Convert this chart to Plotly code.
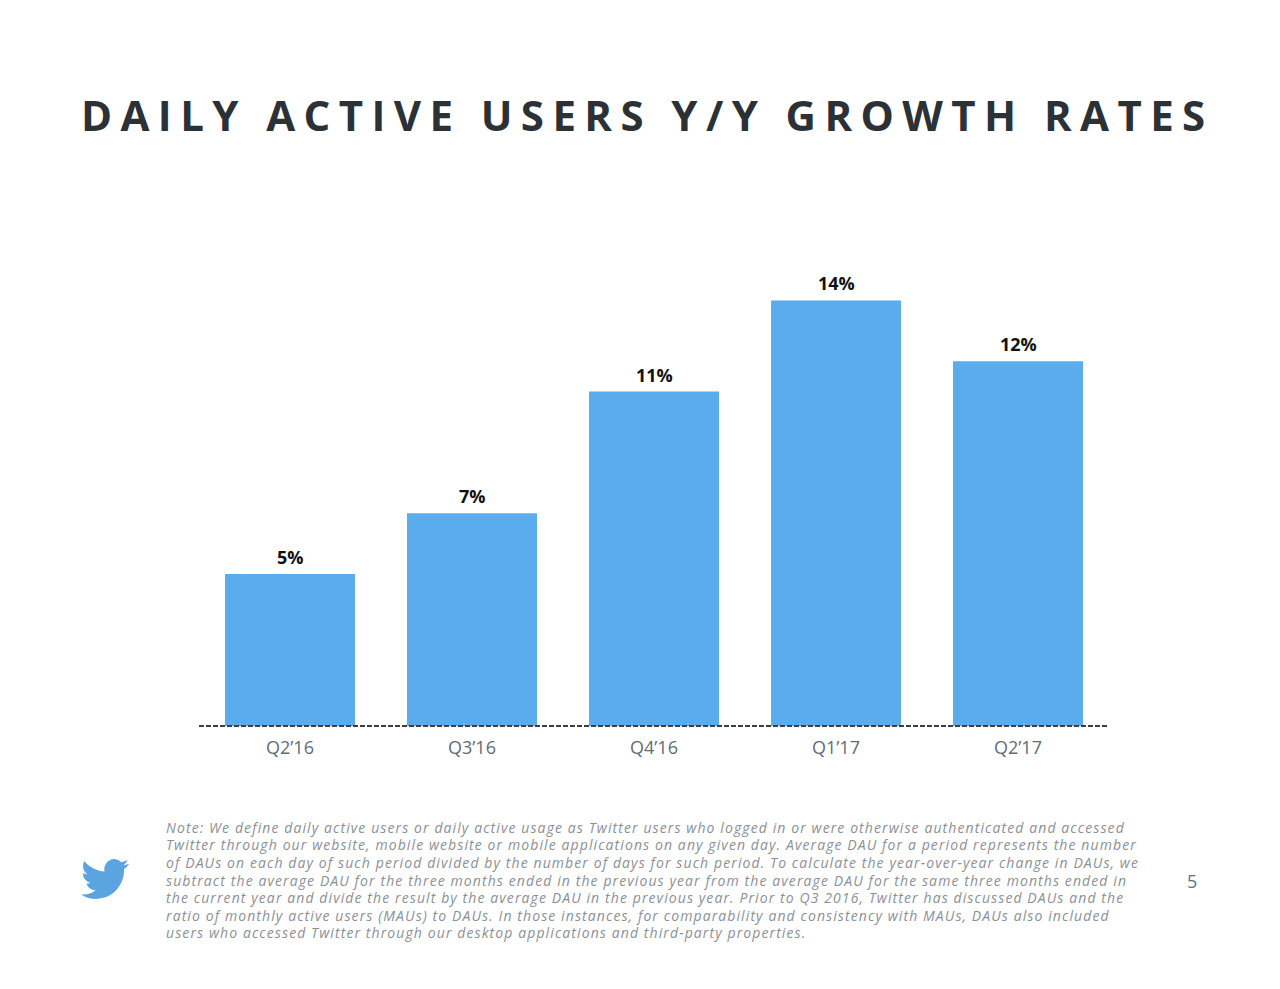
import base64
import plotly.graph_objects as go

quarters = ["Q2’16", "Q3’16", "Q4’16", "Q1’17", "Q2’17"]
growth = [5, 7, 11, 14, 12]
growth_labels = ["5%", "7%", "11%", "14%", "12%"]

title = "DAILY ACTIVE USERS Y/Y GROWTH RATES"
page_number = "5"
note_lines = [
    "Note: We define daily active users or daily active usage as Twitter users who logged in or were otherwise authenticated and accessed",
    "Twitter through our website, mobile website or mobile applications on any given day. Average DAU for a period represents the number",
    "of DAUs on each day of such period divided by the number of days for such period. To calculate the year-over-year change in DAUs, we",
    "subtract the average DAU for the three months ended in the previous year from the average DAU for the same three months ended in",
    "the current year and divide the result by the average DAU in the previous year. Prior to Q3 2016, Twitter has discussed DAUs and the",
    "ratio of monthly active users (MAUs) to DAUs. In those instances, for comparability and consistency with MAUs, DAUs also included",
    "users who accessed Twitter through our desktop applications and third-party properties.",
]
note_y = [827, 845, 862, 880, 897, 915, 932]

FONT = "Open Sans"
BLUE = "#5aacec"

# plot area in page pixels
LEFT, RIGHT, TOP, BOTTOM = 199, 1109, 270, 726


def paper_x(px):
    return (px - LEFT) / (RIGHT - LEFT)


def paper_y(py):
    return (BOTTOM - py) / (BOTTOM - TOP)


BIRD = (
    '<svg xmlns="http://www.w3.org/2000/svg" viewBox="0 0 24 19.6">'
    '<path transform="translate(0,-2.2)" fill="#5aa5e0" d="M23.953 4.57a10 10 0 01-2.825.775 4.958 4.958 0 002.163-2.723'
    "c-.951.555-2.005.959-3.127 1.184a4.92 4.92 0 00-8.384 4.482C7.69 8.095 4.067 6.13 1.64 3.162"
    "a4.822 4.822 0 00-.666 2.475c0 1.71.87 3.213 2.188 4.096a4.904 4.904 0 01-2.228-.616v.06"
    "a4.923 4.923 0 003.946 4.827 4.996 4.996 0 01-2.212.085 4.936 4.936 0 004.604 3.417"
    "a9.867 9.867 0 01-6.102 2.105c-.39 0-.779-.023-1.17-.067a13.995 13.995 0 007.557 2.209"
    'c9.053 0 13.998-7.496 13.998-13.985 0-.21 0-.42-.015-.63A9.935 9.935 0 0024 4.59z"/></svg>'
)

fig = go.Figure(go.Bar(x=quarters, y=growth, marker=dict(color=BLUE, line_width=0), hoverinfo="skip"))

# value labels over the bars
for q, v, lab in zip(quarters, growth, growth_labels):
    fig.add_annotation(x=q, y=v, text=lab, showarrow=False, yanchor="bottom", yshift=3,
                       font=dict(family=FONT, size=18, color="#111111", weight=700))

for line, y in zip(note_lines, note_y):
    fig.add_annotation(xref="paper", yref="paper", x=paper_x(164), y=paper_y(y), text=line,
                       showarrow=False, xanchor="left", yanchor="middle", align="left",
                       font=dict(family=FONT, size=14, color="#8b9095", style="italic"))

fig.add_annotation(xref="paper", yref="paper", x=paper_x(1192), y=paper_y(881), text=page_number,
                   showarrow=False, xanchor="center", yanchor="middle",
                   font=dict(family=FONT, size=18, color="#5b7186"))

# dashed baseline, paper refs so it isn't clipped at the plot edge
fig.add_shape(type="line", xref="paper", yref="paper", x0=0, x1=1, y0=0, y1=0,
              line=dict(color="#3a3f44", width=2, dash="5px,2px"))

fig.add_layout_image(
    source="data:image/svg+xml;base64," + base64.b64encode(BIRD.encode()).decode(),
    xref="paper", yref="paper", x=paper_x(81), y=paper_y(859),
    sizex=48 / (RIGHT - LEFT), sizey=40 / (BOTTOM - TOP),
    xanchor="left", yanchor="top", sizing="stretch", layer="above",
)

fig.update_layout(
    width=1280, height=989,
    margin=dict(l=LEFT, r=1280 - RIGHT, t=TOP, b=989 - BOTTOM, autoexpand=False),
    paper_bgcolor="white", plot_bgcolor="white",
    showlegend=False, bargap=0.286,
    title=dict(text=title, x=81 / 1280, xanchor="left", y=1 - 116 / 989, yanchor="middle",
               font=dict(family=FONT, size=42, color="#2c3136", weight=700)),
    xaxis=dict(showgrid=False, zeroline=False, showline=False, ticks="outside", ticklen=5,
               tickcolor="rgba(0,0,0,0)",
               tickfont=dict(family=FONT, size=18, color="#626c74")),
    yaxis=dict(range=[0, 15], visible=False),
)

# plotly has no letter spacing option, title and note need it. Page margin off so pixels line up
post = (
    "document.body.style.margin='0';"
    "document.querySelectorAll('.gtitle').forEach(function(t){t.style.letterSpacing='8.4px';});"
    "document.querySelectorAll('.annotation-text').forEach(function(t){"
    "if(t.style.fontStyle==='italic'){t.style.letterSpacing='1.1px';}});"
)
fig.write_html("out.html", post_script=post, config={"displayModeBar": False})
